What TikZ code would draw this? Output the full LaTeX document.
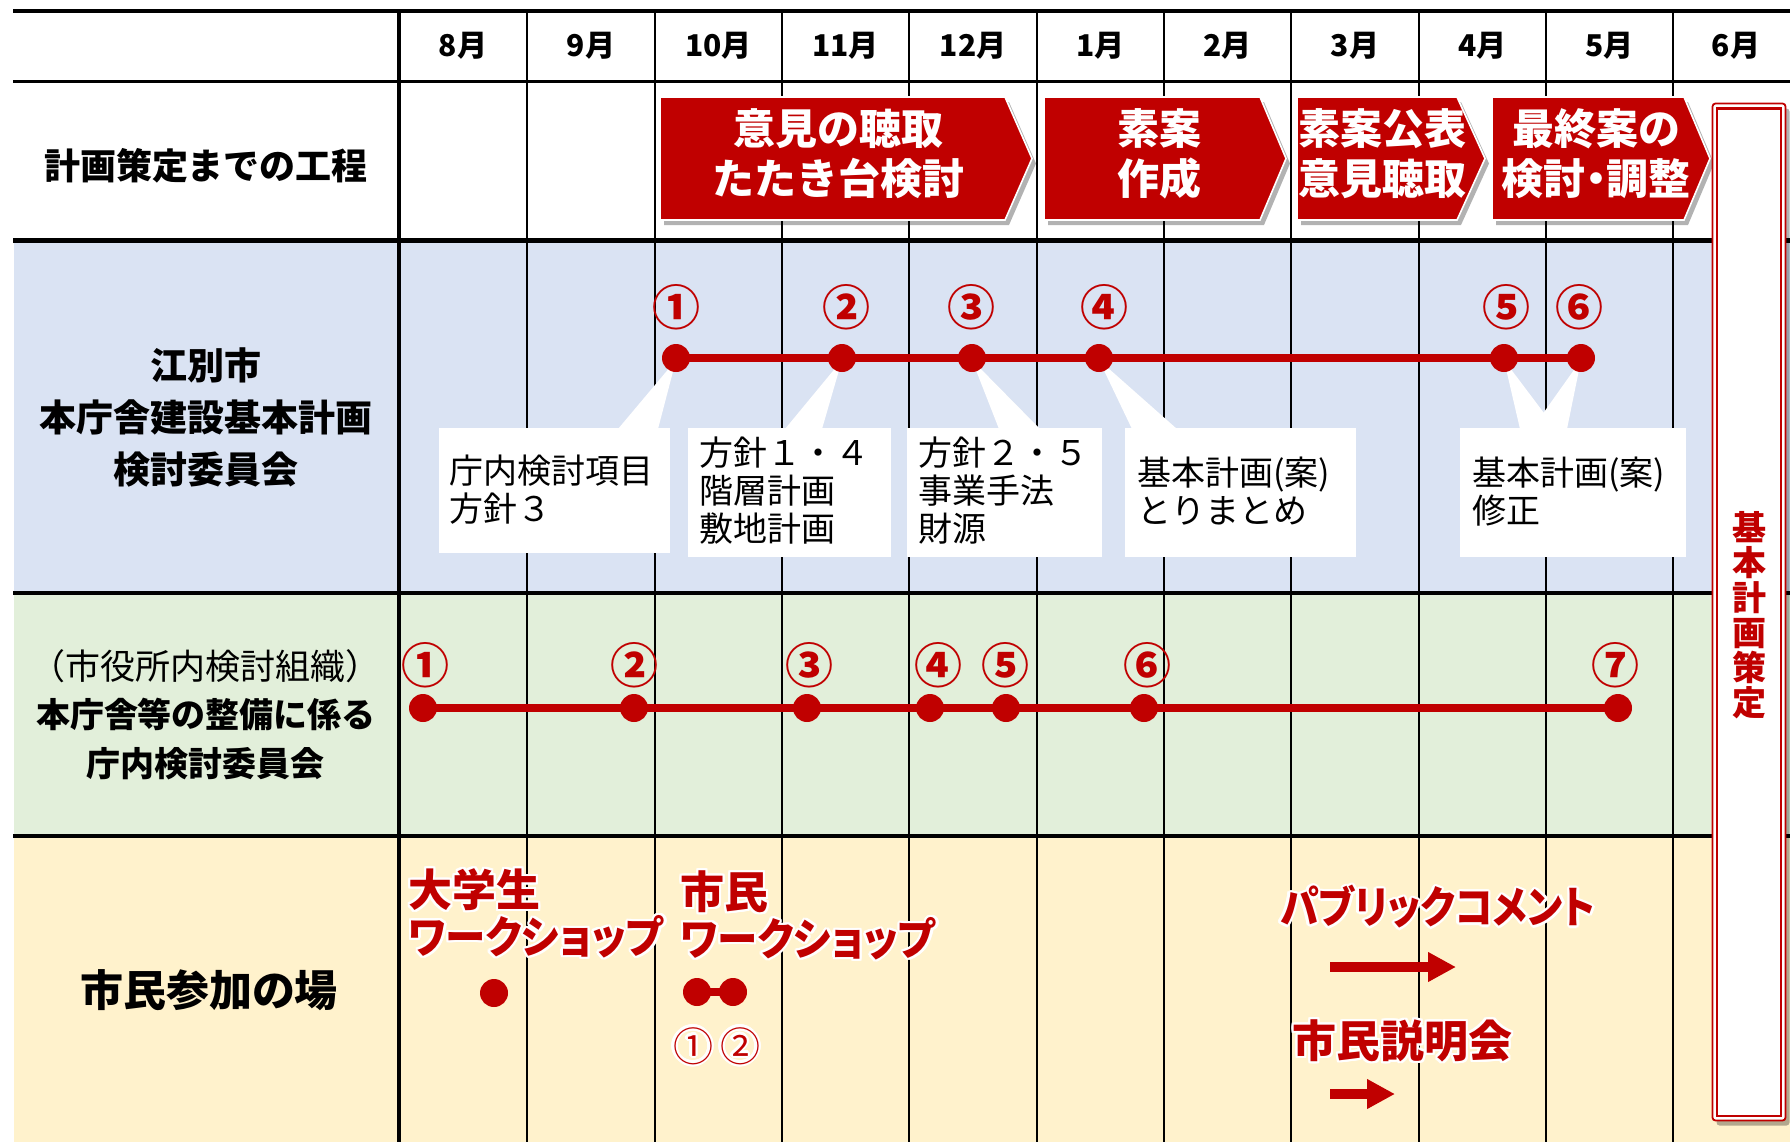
\documentclass[tikz,border=0pt]{standalone}
\usepackage{fontspec}
\setmainfont{Noto Sans CJK JP}
\newfontfamily\jpp[RawFeature=+palt]{Noto Sans CJK JP}
\newfontfamily\jppa[RawFeature=+palt, FakeStretch=0.92]{Noto Sans CJK JP}
\newfontfamily\jppb[RawFeature=+palt, FakeStretch=0.88]{Noto Sans CJK JP}
\usepackage[copies]{contour}
\contourlength{1.2pt}
\usetikzlibrary{shadows,arrows.meta}
\definecolor{cred}{RGB}{192,0,0}
\definecolor{rowblue}{RGB}{218,227,243}
\definecolor{rowgreen}{RGB}{226,239,218}
\definecolor{rowyellow}{RGB}{255,242,204}
\begin{document}
\begin{tikzpicture}[x=0.5pt,y=-0.5pt,
  gridline/.style={line width=1.25pt},
  gridthick/.style={line width=2.25pt},
  month/.style={font=\bfseries\fontsize{15}{18}\selectfont, inner sep=0},
  rowlabel/.style={font=\bfseries\fontsize{18.5}{26}\selectfont, align=center, inner sep=0},
  chev/.style={fill=cred, draw=white, line width=0.8pt,
    drop shadow={shadow xshift=2pt, shadow yshift=-2.5pt, opacity=0.3, fill=black}},
  chevtxt/.style={text=white, font=\bfseries\fontsize{21}{25}\selectfont, align=center, inner sep=0},
  calltxt/.style={font=\fontsize{17}{19}\selectfont, align=left, anchor=west, inner sep=0},
  dotmark/.style={circle, fill=cred, inner sep=0, minimum size=14pt},
  tl/.style={draw=cred, line width=4pt},
  cnum/.style={text=cred, font=\bfseries\fontsize{24}{24}\selectfont, inner sep=0},
  cnumsmall/.style={text=cred, font=\fontsize{20}{20}\selectfont, inner sep=0},
  redlbl/.style={text=cred, font=\jpp\bfseries\fontsize{22}{23.5}\selectfont, align=left, anchor=west, inner sep=0},
  bigarrow/.style={draw=cred, line width=5pt, -{Triangle[length=14pt,width=14pt]}},
  vtxt/.style={text=cred, font=\bfseries\fontsize{17}{17.5}\selectfont, align=center, inner sep=0}
]
\useasboundingbox (0,0) rectangle (1790,1142);
\fill[white] (0,0) rectangle (1790,1142);
% row fills
\fill[rowblue] (14,240) rectangle (1790,593);
\fill[rowgreen] (14,593) rectangle (1790,836);
\fill[rowyellow] (14,836) rectangle (1790,1142);
% grid
\draw[gridthick] (399,11) -- (399,1142);
\foreach \x in {527,655,782,909,1037,1164,1291,1419,1546,1673}
  \draw[gridline] (\x,11) -- (\x,1142);
\draw[line width=2pt] (13,11) -- (1790,11);
\draw[line width=1.5pt] (13,81) -- (1790,81);
\draw[line width=2.5pt] (13,240) -- (1790,240);
\draw[line width=2pt] (13,593) -- (1790,593);
\draw[line width=2pt] (13,836) -- (1790,836);
% months
\foreach \x/\m [count=\i] in {463/8,591/9,718.5/10,845.5/11,973/12,1100.5/1,1227.5/2,1355/3,1482.5/4,1609.5/5,1736/6}
  \node[month] (m\i) at (\x,46) {\m 月};
% row labels
\node[rowlabel, font=\bfseries\fontsize{18}{26}\selectfont] (lbl0) at (206,166) {計画策定までの工程};
\node[rowlabel] (lbl1) at (206,417) {江別市\\本庁舎建設基本計画\\検討委員会};
\node[rowlabel, font=\bfseries\fontsize{17}{24.25}\selectfont] (lbl2) at (206,714.5)
  {{\mdseries\fontsize{17.5}{24.25}\selectfont （市役所内検討組織）}\\本庁舎等の整備に係る\\庁内検討委員会};
\node[rowlabel, font=\bfseries\fontsize{21.5}{26}\selectfont] (lbl3) at (209,990) {市民参加の場};
% chevrons
\filldraw[chev] (660,97) -- (1005,97) -- (1032,158.5) -- (1005,220) -- (660,220) -- cycle;
\filldraw[chev] (1044,97) -- (1260,97) -- (1286,158.5) -- (1260,220) -- (1044,220) -- cycle;
\filldraw[chev] (1297,97) -- (1457,97) -- (1485,158.5) -- (1457,220) -- (1297,220) -- cycle;
\filldraw[chev] (1492,97) -- (1684,97) -- (1710,158.5) -- (1684,220) -- (1492,220) -- cycle;
\node[chevtxt] (ct1) at (838,153.5) {意見の聴取\\たたき台検討};
\node[chevtxt] (ct2) at (1159,153.5) {素案\\作成};
\node[chevtxt] (ct3) at (1382,153.5) {素案公表\\意見聴取};
\node[chevtxt, font=\jpp\bfseries\fontsize{21}{25}\selectfont] (ct4) at (1596,153.5) {最終案の\\検討・調整};
% callouts (blue row)
\fill[white] (439,428) rectangle (670,553);
\fill[white] (676,360) -- (618,429) -- (658,429) -- cycle;
\fill[white] (688,428) rectangle (891,557);
\fill[white] (842,360) -- (785,429) -- (822,429) -- cycle;
\fill[white] (907,428) rectangle (1102,557);
\fill[white] (972,360) -- (999,429) -- (1040,429) -- cycle;
\fill[white] (1125,428) rectangle (1356,557);
\fill[white] (1099,360) -- (1132,429) -- (1177,429) -- cycle;
\fill[white] (1460,428) rectangle (1686,557);
\fill[white] (1504,360) -- (1520,429) -- (1556,429) -- cycle;
\fill[white] (1581,360) -- (1532,429) -- (1567,429) -- cycle;
\node[calltxt] (c1) at (449,490) {庁内検討項目\\方針３};
\node[calltxt] (c2) at (699,491) {方針１・４\\階層計画\\敷地計画};
\node[calltxt] (c3) at (918,491) {方針２・５\\事業手法\\財源};
\node[calltxt] (c4) at (1137,491.5) {基本計画(案)\\とりまとめ};
\node[calltxt] (c5) at (1472,491.5) {基本計画(案)\\修正};
% blue timeline
\foreach \x [count=\i] in {676,842,972,1099,1504,1581}
  \node[dotmark] (a\i) at (\x,358) {};
\draw[tl] (a1.center) -- (a6.center);
\foreach \x/\n [count=\i] in {676/①,846/②,971/③,1104/④,1506/⑤,1579/⑥}
  \node[cnum] (na\i) at (\x,307) {\n};
% green timeline
\foreach \x [count=\i] in {423,634,807,930,1006,1144,1618}
  \node[dotmark] (b\i) at (\x,708) {};
\draw[tl] (b1.center) -- (b7.center);
\foreach \x/\n [count=\i] in {425/①,634/②,809/③,938/④,1005/⑤,1147/⑥,1615/⑦}
  \node[cnum] (nb\i) at (\x,665) {\n};
% yellow row
\node[redlbl] (ws1) at (408,914.5) {\contour{white}{大学生}\\\contour{white}{\jppa ワークショップ}};
\node[redlbl] (ws2) at (680,916.5) {\contour{white}{市民}\\\contour{white}{\jppa ワークショップ}};
\node[dotmark] (y1) at (494,993) {};
\node[dotmark] (y2) at (697,992) {};
\node[dotmark] (y3) at (733,992) {};
\draw[tl] (y2.center) -- (y3.center);
\node[cnumsmall] (ys1) at (693,1047) {\contour{white}{①}};
\node[cnumsmall] (ys2) at (740,1047) {\contour{white}{②}};
\node[redlbl, font=\jppb\bfseries\fontsize{22}{23.5}\selectfont] (pc) at (1280,908) {\contour{white}{パブリックコメント}};
\coordinate (pcA) at (1330,967);
\coordinate (pcB) at (1456,967);
\draw[bigarrow] (pcA) -- (pcB);
\node[redlbl] (sm) at (1292,1042) {\contour{white}{市民説明会}};
\coordinate (smA) at (1330,1094);
\coordinate (smB) at (1395,1094);
\draw[bigarrow] (smA) -- (smB);
% final box
\draw[cred, line width=0.9pt, fill=white, rounded corners=1.5pt,
  drop shadow={shadow xshift=2pt, shadow yshift=-2.5pt, opacity=0.3, fill=black}]
  (1712.5,103.5) rectangle (1785.5,1120.5);
\draw[cred, line width=1.25pt] (1717,108.5) rectangle (1781,1116);
\node[vtxt] (plan) at (1749,615) {基\\本\\計\\画\\策\\定};
\end{tikzpicture}
\end{document}
